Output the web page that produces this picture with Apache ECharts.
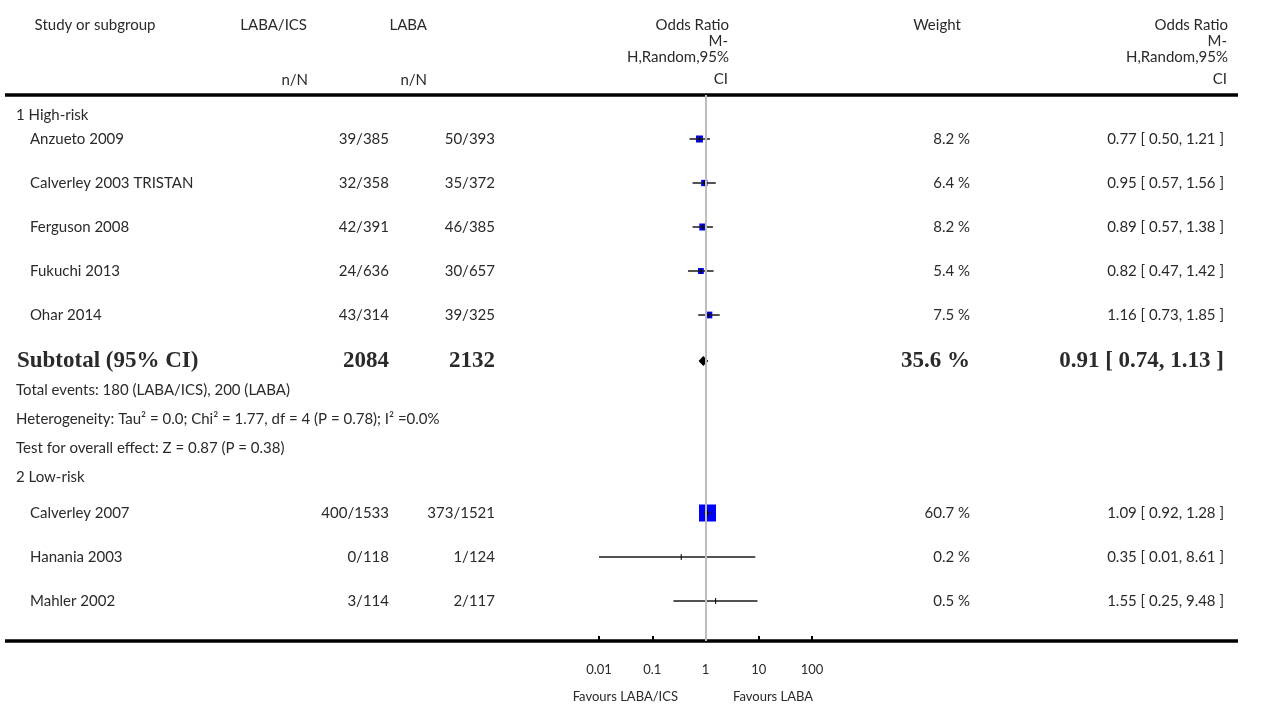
<!DOCTYPE html>
<html><head><meta charset="utf-8">
<script src="https://cdn.jsdelivr.net/npm/echarts@6/dist/echarts.min.js"></script>
<style>html,body{margin:0;padding:0;background:#fff}#c{width:1268px;height:707px}</style>
</head><body><div id="c"></div>
<script>
// ---------- data ----------
const groups = ['1 High-risk', '2 Low-risk'];
const studies1 = ['Anzueto 2009', 'Calverley 2003 TRISTAN', 'Ferguson 2008', 'Fukuchi 2013', 'Ohar 2014'];
const icsN1 = ['39/385', '32/358', '42/391', '24/636', '43/314'];
const labaN1 = ['50/393', '35/372', '46/385', '30/657', '39/325'];
const weights1 = [8.2, 6.4, 8.2, 5.4, 7.5];
const or1 = [0.77, 0.95, 0.89, 0.82, 1.16];
const lo1 = [0.50, 0.57, 0.57, 0.47, 0.73];
const hi1 = [1.21, 1.56, 1.38, 1.42, 1.85];
const subtotalLabel = 'Subtotal (95% CI)';
const subtotalTotals = ['2084', '2132'];
const subtotalWeight = 35.6;
const subtotalOR = [0.91, 0.74, 1.13];
const infoLines = [
  'Total events: 180 (LABA/ICS), 200 (LABA)',
  'Heterogeneity: Tau\u00B2 = 0.0; Chi\u00B2 = 1.77, df = 4 (P = 0.78); I\u00B2 =0.0%',
  'Test for overall effect: Z = 0.87 (P = 0.38)'
];
const studies2 = ['Calverley 2007', 'Hanania 2003', 'Mahler 2002'];
const icsN2 = ['400/1533', '0/118', '3/114'];
const labaN2 = ['373/1521', '1/124', '2/117'];
const weights2 = [60.7, 0.2, 0.5];
const or2 = [1.09, 0.35, 1.55];
const lo2 = [0.92, 0.01, 0.25];
const hi2 = [1.28, 8.61, 9.48];
const tickValues = [0.01, 0.1, 1, 10, 100];
const tickLabels = ['0.01', '0.1', '1', '10', '100'];
const favours = ['Favours LABA/ICS', 'Favours LABA'];

// ---------- layout (not data) ----------
const rowOffsets = [20, 44, 88, 132, 176, 220, 266, 295, 324, 353, 382, 418, 462, 506];
const FONT = '15px Lato';
const BOLD = 'bold 23px "Liberation Serif"';
const TXT = '#2a2a2a';
const COL = { group: 16, name: 30, ics: 389, laba: 495, weight: 970, ci: 1224 };

const rows = [];
rows.push({ kind: 'group', text: groups[0] });
studies1.forEach((s, i) => rows.push({ kind: 'study', name: s, ics: icsN1[i], laba: labaN1[i], w: weights1[i], or: or1[i], lo: lo1[i], hi: hi1[i] }));
rows.push({ kind: 'subtotal' });
infoLines.forEach(t => rows.push({ kind: 'info', text: t }));
rows.push({ kind: 'group', text: groups[1] });
studies2.forEach((s, i) => rows.push({ kind: 'study', name: s, ics: icsN2[i], laba: labaN2[i], w: weights2[i], or: or2[i], lo: lo2[i], hi: hi2[i] }));

const fmtCI = (o, l, h) => o.toFixed(2) + ' [ ' + l.toFixed(2) + ', ' + h.toFixed(2) + ' ]';

function txt(x, y, text, align, font) {
  return { type: 'text', style: { text: text, x: x, y: y, fill: TXT, font: font || FONT,
    align: align, verticalAlign: 'middle', textAlign: align, textVerticalAlign: 'middle' } };
}

function renderRow(params, api) {
  const r = rows[api.value(2)];
  const yv = api.value(1);
  const y = api.coord([1, yv])[1];
  const ch = [];
  if (r.kind === 'group' || r.kind === 'info') {
    ch.push(txt(COL.group, y, r.text, 'left'));
  } else if (r.kind === 'study') {
    ch.push(txt(COL.name, y, r.name, 'left'));
    ch.push(txt(COL.ics, y, r.ics, 'right'));
    ch.push(txt(COL.laba, y, r.laba, 'right'));
    ch.push(txt(COL.weight, y, r.w.toFixed(1) + ' %', 'right'));
    ch.push(txt(COL.ci, y, fmtCI(r.or, r.lo, r.hi), 'right'));
    const p = api.coord([r.or, yv]);
    const pl = api.coord([r.lo, yv]);
    const ph = api.coord([r.hi, yv]);
    if (r.w >= 1) {
      const s = 2.03 * Math.sqrt(r.w) + 1.2;
      ch.push({ type: 'rect', shape: { x: p[0] - s / 2, y: p[1] - s / 2, width: s, height: s }, style: { fill: '#0000ff' } });
    }
    ch.push({ type: 'line', shape: { x1: pl[0], y1: y, x2: ph[0], y2: y }, style: { stroke: '#1a1a1a', lineWidth: 1.5 } });
    ch.push({ type: 'line', shape: { x1: p[0], y1: y - 3, x2: p[0], y2: y + 3 }, style: { stroke: '#000', lineWidth: 1 } });
  } else if (r.kind === 'subtotal') {
    ch.push(txt(17, y, subtotalLabel, 'left', BOLD));
    ch.push(txt(COL.ics, y, subtotalTotals[0], 'right', BOLD));
    ch.push(txt(COL.laba, y, subtotalTotals[1], 'right', BOLD));
    ch.push(txt(COL.weight, y, subtotalWeight.toFixed(1) + ' %', 'right', BOLD));
    ch.push(txt(COL.ci, y, fmtCI(subtotalOR[0], subtotalOR[1], subtotalOR[2]), 'right', BOLD));
    const p = api.coord([subtotalOR[0], yv]);
    const pl = api.coord([subtotalOR[1], yv]);
    const ph = api.coord([subtotalOR[2], yv]);
    ch.push({ type: 'polygon', shape: { points: [[pl[0], y], [p[0], y - 5], [ph[0], y], [p[0], y + 5]] }, style: { fill: '#000' } });
  }
  return { type: 'group', children: ch };
}

const chart = echarts.init(document.getElementById('c'), null, { renderer: 'canvas' });
const hdr = (x, y, text, align) => ({ type: 'text', x: x, y: y, style: { text: text, fill: TXT, font: FONT, align: align, verticalAlign: 'middle' } });

chart.setOption({
  animation: false,
  backgroundColor: '#fff',
  grid: { left: 599, width: 213, top: 95, bottom: 66 },
  xAxis: {
    type: 'log', logBase: 10, min: 0.01, max: 100, position: 'bottom',
    axisLine: { show: false, onZero: false },
    axisTick: { show: true, inside: true, length: 5, lineStyle: { color: '#000', width: 2 } },
    axisLabel: { margin: 22, fontSize: 13, fontFamily: 'Lato', color: TXT,
      formatter: v => { const i = tickValues.findIndex(t => Math.abs(Math.log10(t) - Math.log10(v)) < 1e-6); return i >= 0 ? tickLabels[i] : ''; } },
    splitLine: { show: false }
  },
  yAxis: { type: 'value', min: 0, max: 546, inverse: true, show: false },
  series: [
    {
      type: 'custom', clip: false, silent: true,
      renderItem: renderRow,
      data: rows.map((r, i) => [1, rowOffsets[i], i]),
      markLine: { silent: true, symbol: 'none', label: { show: false },
        lineStyle: { color: '#bdbdbd', width: 2, type: 'solid' }, data: [{ xAxis: 1 }] },
      z: 3
    }
  ],
  graphic: [
    hdr(95, 25, 'Study or subgroup', 'center'),
    hdr(307, 25, 'LABA/ICS', 'right'),
    hdr(308, 80, 'n/N', 'right'),
    hdr(427, 25, 'LABA', 'right'),
    hdr(427, 80, 'n/N', 'right'),
    hdr(729, 25, 'Odds Ratio', 'right'),
    hdr(728, 41, 'M-', 'right'),
    hdr(729, 57, 'H,Random,95%', 'right'),
    hdr(728, 79, 'CI', 'right'),
    hdr(937, 25, 'Weight', 'center'),
    hdr(1228, 25, 'Odds Ratio', 'right'),
    hdr(1227, 41, 'M-', 'right'),
    hdr(1228, 57, 'H,Random,95%', 'right'),
    hdr(1227, 79, 'CI', 'right'),
    { type: 'line', shape: { x1: 5, y1: 95, x2: 1238, y2: 95 }, style: { stroke: '#000', lineWidth: 3.5 } },
    { type: 'line', shape: { x1: 5, y1: 641, x2: 1238, y2: 641 }, style: { stroke: '#000', lineWidth: 3.5 } },
    { type: 'text', x: 678, y: 697, style: { text: favours[0], fill: TXT, font: '13px Lato', align: 'right', verticalAlign: 'middle' } },
    { type: 'text', x: 733, y: 697, style: { text: favours[1], fill: TXT, font: '13px Lato', align: 'left', verticalAlign: 'middle' } }
  ]
});
</script></body></html>
